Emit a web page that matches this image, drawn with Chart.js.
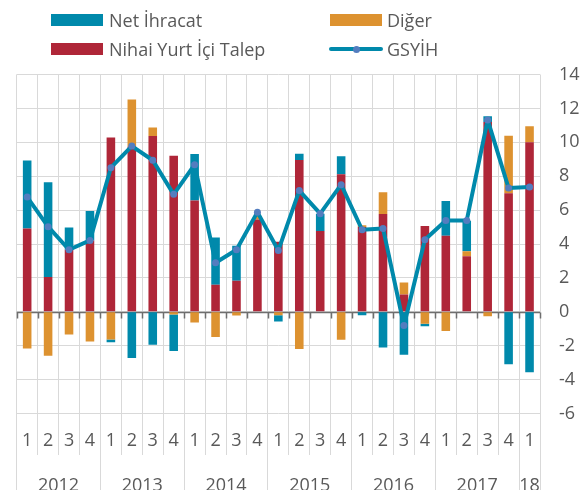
<!DOCTYPE html>
<html><head><meta charset="utf-8">
<script src="https://cdn.jsdelivr.net/npm/chart.js@4/dist/chart.umd.min.js"></script>
<style>
html,body{margin:0;padding:0;background:#fff;}
#wrap{position:relative;width:587px;height:490px;overflow:hidden;}
canvas{position:absolute;left:0;top:0;}
.lg{position:absolute;font-family:'Open Sans';font-size:18px;color:#595959;line-height:20px;white-space:nowrap;}
.sw{position:absolute;}
</style></head><body>
<div id="wrap">
<canvas id="c" width="587" height="490"></canvas>
<div class="sw" style="left:51px;top:14px;width:52px;height:12px;background:#0089AB"></div>
<div class="lg" style="left:109px;top:9.5px">Net İhracat</div>
<div class="sw" style="left:51px;top:43px;width:52px;height:12px;background:#AF2638"></div>
<div class="lg" style="left:109px;top:38.5px">Nihai Yurt İçi Talep</div>
<div class="sw" style="left:330px;top:14px;width:52px;height:12px;background:#DD9230"></div>
<div class="lg" style="left:387px;top:9.5px">Diğer</div>
<div class="sw" style="left:329px;top:47px;width:54px;height:4px;background:#0089AB;border-radius:2px"></div>
<div class="sw" style="left:352.5px;top:45.5px;width:7px;height:7px;background:#537DBF;border-radius:50%"></div>
<div class="lg" style="left:387px;top:38.5px">GSYİH</div>
</div>
<script>
// ---- data ----
const quarterLabels = ['1','2','3','4','1','2','3','4','1','2','3','4','1','2','3','4','1','2','3','4','1','2','3','4','1'];
const yearLabels = ['2012','2013','2014','2015','2016','2017','18'];
const quartersPerYear = [4,4,4,4,4,4,1];
const nihaiTalep = [4.92,2.05,3.66,4.21,10.28,9.75,10.37,9.21,6.56,1.59,1.83,5.45,4.13,8.96,4.76,8.11,5.00,5.77,1.02,5.06,4.49,3.27,11.20,7.00,10.00];
const diger      = [-2.17,-2.60,-1.34,-1.75,-1.63,2.78,0.50,-0.16,-0.63,-1.48,-0.22,0.20,-0.20,-2.19,0,-1.65,0.10,1.28,0.71,-0.71,-1.14,0.30,-0.26,3.39,0.94];
const netIhracat = [4.00,5.60,1.32,1.73,-0.16,-2.72,-1.95,-2.16,2.75,2.80,2.07,0,-0.37,0.37,1.02,1.06,-0.20,-2.10,-2.54,-0.14,2.05,1.80,0.34,-3.09,-3.56];
const gsyih      = [6.77,5.02,3.66,4.21,8.50,9.78,8.94,6.93,8.68,2.89,3.66,5.88,3.62,7.15,5.79,7.50,4.84,4.92,-0.81,4.25,5.39,5.39,11.32,7.30,7.36];
const yMin = -6, yMax = 14, yStep = 2;

// year group positions on the category index scale
const yearBounds = [-0.5];
const yearCenters = [];
(function(){ let s = 0; quartersPerYear.forEach(n => { yearCenters.push(s + (n - 1) / 2); s += n; yearBounds.push(s - 0.5); }); })();

const FONT = {family: "'Open Sans'", size: 18, lineHeight: 1.2};
const TXT = '#595959';
const GRID = '#d9d9d9';

const zeroTicks = {
  id: 'zeroTicks',
  beforeDatasetsDraw(chart) {
    const x = chart.scales.x, y = chart.scales.y, ctx = chart.ctx;
    const y0 = Math.round(y.getPixelForValue(0)) + 0.5;
    ctx.save();
    ctx.strokeStyle = '#6e6e6e';
    ctx.lineWidth = 1.5;
    ctx.beginPath();
    ctx.moveTo(chart.chartArea.left, y0); ctx.lineTo(chart.chartArea.right, y0);
    for (let i = 0; i <= quarterLabels.length; i++) {
      const px = Math.round(x.getPixelForValue(i - 0.5)) + 0.5;
      ctx.moveTo(px, y0); ctx.lineTo(px, y0 + 6);
    }
    ctx.stroke();
    ctx.restore();
  }
};

new Chart(document.getElementById('c'), {
  data: {
    labels: quarterLabels,
    datasets: [
      {type: 'line', label: 'GSYİH', data: gsyih, borderColor: '#0089AB', borderWidth: 4, pointRadius: 3.5,
       borderJoinStyle: 'round', borderCapStyle: 'round',
       pointBackgroundColor: '#537DBF', pointBorderWidth: 0, tension: 0, order: 0, stack: 'gdp'},
      {type: 'bar', label: 'Nihai Yurt İçi Talep', data: nihaiTalep, backgroundColor: '#AF2638', order: 1, stack: 's'},
      {type: 'bar', label: 'Diğer', data: diger, backgroundColor: '#DD9230', order: 1, stack: 's'},
      {type: 'bar', label: 'Net İhracat', data: netIhracat, backgroundColor: '#0089AB', order: 1, stack: 's'}
    ]
  },
  options: {
    responsive: false,
    animation: false,
    layout: {padding: {top: 74.5, left: 16.7, right: 0, bottom: 0}},
    datasets: {bar: {barPercentage: 0.41, categoryPercentage: 1}},
    plugins: {legend: {display: false}, tooltip: {enabled: false}},
    scales: {
      x: {
        type: 'category', position: 'bottom', stacked: true, offset: true,
        grid: {offset: true, color: GRID, lineWidth: 1, drawTicks: true, tickLength: 41.5},
        border: {display: false},
        ticks: {font: FONT, color: TXT, padding: -25.3, autoSkip: false, maxRotation: 0},
        afterFit(s) { s.height = 41.5; }
      },
      x2: {
        type: 'linear', position: 'bottom', min: -0.5, max: quarterLabels.length - 0.5,
        afterBuildTicks(s) {
          s.ticks = yearBounds.concat(yearCenters).sort((a, b) => a - b).map(v => ({value: v}));
        },
        grid: {drawOnChartArea: false, drawTicks: true, tickLength: 35,
               color: c => (c.tick && yearCenters.includes(c.tick.value)) ? 'rgba(0,0,0,0)' : GRID},
        border: {display: false},
        ticks: {font: FONT, color: TXT, padding: -15.2, autoSkip: false, maxRotation: 0,
                callback: v => { const i = yearCenters.indexOf(v); return i >= 0 ? yearLabels[i] : ''; }},
        afterFit(s) { s.height = 35; }
      },
      y: {
        position: 'right', stacked: true, min: yMin, max: yMax,
        ticks: {stepSize: yStep, font: FONT, color: TXT, padding: 19},
        grid: {color: GRID, lineWidth: 1, drawTicks: false},
        border: {display: false},
        afterFit(s) { s.width = 47; }
      }
    }
  },
  plugins: [zeroTicks]
});
</script>
</body></html>
